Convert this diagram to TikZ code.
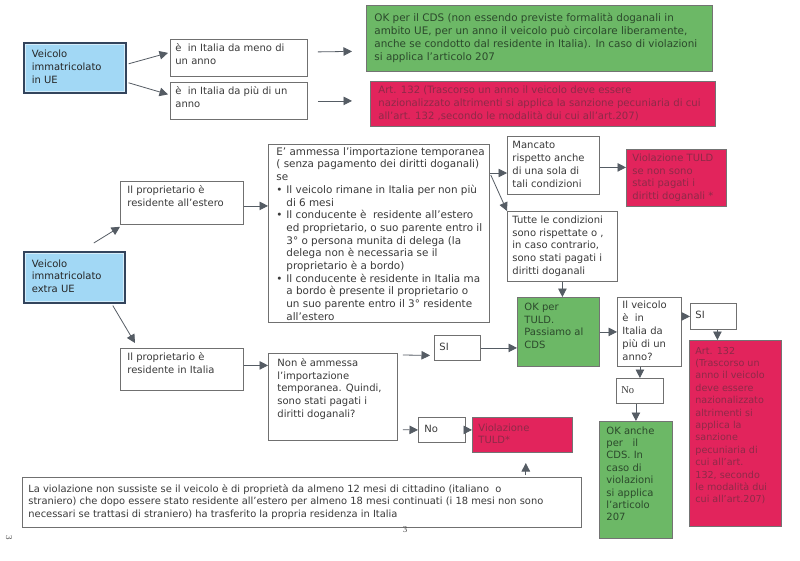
\documentclass[tikz,border=0pt]{standalone}
\usepackage{fontspec}
\setmainfont{DejaVu Sans}
\newfontfamily\serifno{Liberation Serif}
\usetikzlibrary{arrows.meta,calc}
\definecolor{grnf}{HTML}{6CB866}
\definecolor{redf}{HTML}{E2245C}
\definecolor{bluf}{HTML}{A2D8F5}
\definecolor{bdr}{HTML}{707070}
\definecolor{arrc}{HTML}{555C64}
\definecolor{txt}{HTML}{3A3A3A}
\definecolor{grnt}{HTML}{2C4A2C}
\definecolor{redt}{HTML}{8E2A48}
\definecolor{navy}{HTML}{33445C}
\newcommand\bt[3]{\parbox[c][#2pt][t]{#1pt}{\begin{tabular}[t]{@{}l@{}}#3\end{tabular}}}
\newcommand\bc[3]{\parbox[c][#2pt][c]{#1pt}{\begin{tabular}{@{}l@{}}#3\end{tabular}}}
\begin{document}
\begin{tikzpicture}[x=1pt,y=-1pt,
  box/.style={draw=bdr,line width=0.8pt,fill=white,inner xsep=4pt,inner ysep=3pt,anchor=north west,text=txt,font=\fontsize{10}{12.8}\selectfont},
  gbox/.style={box,fill=grnf,draw=black!55,text=grnt},
  rbox/.style={box,fill=redf,draw=black!55,text=redt},
  bbox/.style={box,fill=bluf,draw=navy,line width=1.6pt,inner xsep=8pt,text=black!85},
  inline/.style={draw=white!55!bluf,line width=0.8pt},
  arr/.style={draw=arrc,line width=0.8pt,-{Triangle[length=8.5pt,width=8.5pt]}},
  pgnum/.style={font=\serifno\fontsize{9}{10}\selectfont,text=black!70,inner sep=0pt}
]
\useasboundingbox (0,0) rectangle (800,560);
\fill[white] (0,0) rectangle (800,560);

% --- UE part
\node[bbox] (ue) at (23,42) {\bc{86}{44}{Veicolo\\immatricolato\\in UE}};
\draw[inline] ($(ue.north west)+(2.6,2.6)$) rectangle ($(ue.south east)+(-2.6,-2.6)$);
\node[box,inner xsep=5pt] (meno) at (170,39) {\bt{127}{31}{è\ \ in Italia da meno di\\un anno}};
\node[box,inner xsep=5pt] (piu) at (170,82) {\bt{127}{31}{è\ \ in Italia da più di un\\anno}};
\node[gbox,inner xsep=8pt,font=\fontsize{10.4}{12.8}\selectfont] (okue) at (366,5) {\bc{330}{60}{OK per il CDS (non essendo previste formalità doganali in\\ambito UE, per un anno il veicolo può circolare liberamente,\\anche se condotto dal residente in Italia). In caso di violazioni\\si applica l’articolo 207}};
\node[rbox,inner xsep=8pt,font=\fontsize{10.1}{13}\selectfont] (rdue) at (370,81) {\bc{329}{39}{Art. 132 (Trascorso un anno il veicolo deve essere\\nazionalizzato altrimenti si applica la sanzione pecuniaria di cui\\all’art. 132 ,secondo le modalità dui cui all’art.207)}};

\draw[arr] ($(ue.east)+(2,-4)$) -- ($(meno.west)+(-2,-5)$);
\draw[arr] ($(ue.east)+(2,15)$) -- ($(piu.west)+(-2,-6.5)$);
\draw[arr] ($(meno.east)+(10,-6)$) -- ($(okue.west)+(-14,13)$);
\draw[arr] ($(piu.east)+(10,0)$) -- ($(rdue.west)+(-18,-3)$);

% --- extra UE part
\node[bbox] (extraue) at (23,251) {\bc{85}{45}{Veicolo\\immatricolato\\extra UE}};
\draw[inline] ($(extraue.north west)+(2.6,2.6)$) rectangle ($(extraue.south east)+(-2.6,-2.6)$);
\node[box,inner xsep=7pt] (estero) at (120,181) {\bt{109}{37}{Il proprietario è\\residente all’estero}};
\node[box,inner xsep=7pt] (italia) at (120,348) {\bt{109}{36}{Il proprietario è\\residente in Italia}};
\node[box,inner xsep=8pt,inner ysep=2pt,font=\fontsize{10.4}{12.7}\selectfont] (big) at (268,144) {\bt{205}{174}{E’ ammessa l’importazione temporanea\\( senza pagamento dei diritti doganali)\\se\\\makebox[10pt][l]{•}Il veicolo rimane in Italia per non più\\\hspace*{10pt}di 6 mesi\\\makebox[10pt][l]{•}Il conducente è\ \ residente all’estero\\\hspace*{10pt}ed proprietario, o suo parente entro il\\\hspace*{10pt}3° o persona munita di delega (la\\\hspace*{10pt}delega non è necessaria se il\\\hspace*{10pt}proprietario è a bordo)\\\makebox[10pt][l]{•}Il conducente è residente in Italia ma\\\hspace*{10pt}a bordo è presente il proprietario o\\\hspace*{10pt}un suo parente entro il 3° residente\\\hspace*{10pt}all’estero}};
\node[box,inner xsep=5pt] (mancato) at (507,136) {\bc{82}{52}{Mancato\\rispetto anche\\di una sola di\\tali condizioni}};
\node[rbox,inner xsep=6pt] (viol1) at (626,149) {\bc{88}{51}{Violazione TULD\\se non sono\\stati pagati i\\diritti doganali *}};
\node[box,inner xsep=5pt] (tutte) at (507,211) {\bc{100}{64}{Tutte le condizioni\\sono rispettate o ,\\in caso contrario,\\sono stati pagati i\\diritti doganali}};
\node[gbox,inner xsep=7pt,inner ysep=4pt] (okt) at (517,297) {\bt{68}{61}{OK per\\TULD.\\Passiamo al\\CDS}};
\node[box,inner xsep=5pt] (veic) at (617,297) {\bc{54}{63}{Il veicolo\\è\ \ in\\Italia da\\più di un\\anno?}};
\node[box,inner xsep=5pt] (si2) at (690,303) {\bc{36}{20}{SI}};
\node[rbox,inner xsep=6pt,inner ysep=5pt,font=\fontsize{9.6}{12.4}\selectfont] (art) at (689,340) {\bt{80}{176}{Art. 132\\(Trascorso un\\anno il veicolo\\deve essere\\nazionalizzato\\altrimenti si\\applica la\\sanzione\\pecuniaria di\\cui all’art.\\132, secondo\\le modalità dui\\cui all’art.207)}};
\node[box,inner xsep=5pt] (no2) at (616,378) {\bc{37}{19}{\serifno\fontsize{10.5}{12}\selectfont No}};
\node[gbox,inner xsep=7pt,inner ysep=4pt,font=\fontsize{10}{12.4}\selectfont] (okanche) at (599,421) {\bt{59}{109}{OK anche\\per\ \ \ il\\CDS. In\\caso di\\violazioni\\si applica\\l’articolo\\207}};
\node[box,inner xsep=5pt] (si1) at (434,335) {\bc{36}{19}{SI}};
\node[box,inner xsep=9pt,inner ysep=4pt] (non) at (268,353) {\bt{111}{79}{Non è ammessa\\l’importazione\\temporanea. Quindi,\\sono stati pagati i\\diritti doganali?}};
\node[box,inner xsep=6pt] (no1) at (418,417) {\bc{35}{19}{No}};
\node[rbox,inner xsep=6pt] (viol2) at (472,417) {\bc{88}{29}{Violazione\\TULD*}};
\node[box,inner xsep=6pt,inner ysep=2pt,font=\fontsize{9.9}{12.8}\selectfont] (bottom) at (22,477) {\bc{547}{46}{La violazione non sussiste se il veicolo è di proprietà da almeno 12 mesi di cittadino (italiano\ \ o\\straniero) che dopo essere stato residente all’estero per almeno 18 mesi continuati (i 18 mesi non sono\\necessari se trattasi di straniero) ha trasferito la propria residenza in Italia}};

\node[pgnum] (pg1) at (405,530) {3};
\node[pgnum,rotate=-90] (pg2) at (9,538) {3};

\draw[arr] ($(extraue.north)+(19.5,-8)$) -- ($(estero.south west)+(0,2)$);
\draw[arr] ($(extraue.south)+(38.5,2)$) -- ($(italia.north west)+(15,-5)$);
\draw[arr] ($(estero.east)+(0,3)$) -- ($(estero.east -| big.west)+(0,3)$);
\coordinate (bk) at ($(big.north east)+(0,29)$);
\draw[arr] (bk) -- (bk -| mancato.west);
\draw[arr] ($(bk)+(1,2)$) -- (tutte.north west);
\draw[arr] ($(mancato.east)+(0,2)$) -- ($(mancato.east -| viol1.west)+(0,2)$);
\draw[arr] (tutte.south) -- (tutte.south |- okt.north);
\draw[arr] (si1.east) -- (si1.east -| okt.west);
\draw[arr] ($(non.north east)+(5,2)$) -- ($(si1.west)+(-4,7.5)$);
\draw[arr] ($(non.south east)+(5,-11)$) -- (no1.west);
\draw[arr] (no1.east) -- (no1.east -| viol2.west);
\draw[arr] ($(italia.east)+(0,-4)$) -- ($(italia.east -| non.west)+(0,-4)$);
\draw[arr] (okt.east) -- (okt.east -| veic.west);
\draw[arr] (veic.east |- si2.west) -- (si2.west);
\draw[arr] ($(si2.south)+(4,0)$) -- ($(si2.south |- art.north)+(4,0)$);
\draw[arr] (no2.north |- veic.south) -- (no2.north);
\draw[arr] (okanche.north |- no2.south) -- (okanche.north);
\draw[arr] ($(bottom.north east)+(-56,-2)$) -- ++(0,-12);
\end{tikzpicture}
\end{document}
